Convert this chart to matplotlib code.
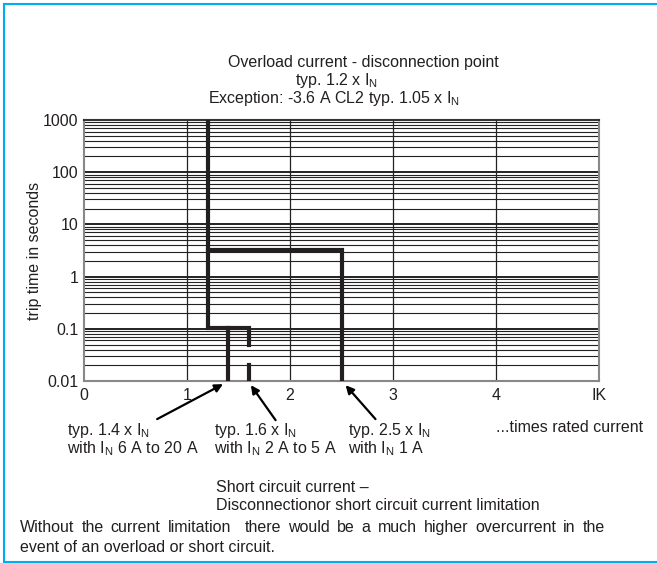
import matplotlib.pyplot as plt
import matplotlib.transforms as mtransforms
from matplotlib.lines import Line2D

plt.rcParams['font.family'] = ['Liberation Sans', 'DejaVu Sans']
plt.rcParams['mathtext.fontset'] = 'custom'
plt.rcParams['mathtext.rm'] = 'Liberation Sans'

# curve data (times rated current, trip time in s)
x_overload = 1.2
x_short = [1.4, 1.6, 2.5]
t_max = 1000
t_step = 3.2
t_short = 0.105
t_gap = [0.05, 0.02]
t_min = 0.01

x_ticks = [0, 1, 2, 3, 4, 5]
x_ticklabels = ['0', '1', '2', '3', '4', 'IK']
y_ticks = [0.01, 0.1, 1, 10, 100, 1000]
y_ticklabels = ['0.01', '0.1', '1', '10', '100', '1000']

FS = 11.5

fig = plt.figure(figsize=(6.57, 5.63), dpi=100)
ax = fig.add_axes([84/657, 182/563, 515/657, 261/563])
ax.set_yscale('log')
ax.set_xlim(0, 5)
ax.set_ylim(t_min, t_max)

# grid
for d in range(-2, 3):
    for m in range(1, 10):
        v = m * 10**d
        if v <= t_min or v >= t_max:
            continue
        ax.axhline(v, color='#222222', lw=1.4 if m == 1 else 0.8, zorder=1)
for xv in x_ticks[1:-1]:
    ax.axvline(xv, color='#222222', lw=0.9, zorder=1)

lw = 3.0
c = '#231f20'
ax.plot([x_overload, x_overload, x_short[1], x_short[1]],
        [t_max, t_short, t_short, t_gap[0]], color=c, lw=lw, solid_joinstyle='miter', zorder=3)
ax.plot([x_short[1], x_short[1]], [t_gap[1], t_min], color=c, lw=lw, zorder=3)
ax.plot([x_short[0], x_short[0]], [t_short, t_min], color=c, lw=lw, zorder=3)
ax.plot([x_overload, x_short[2], x_short[2]], [t_step, t_step, t_min],
        color=c, lw=lw, solid_joinstyle='miter', zorder=3)

for s in ax.spines.values():
    s.set_color('#888888')
    s.set_linewidth(1.5)
ax.spines['top'].set_color('#333333')

ax.set_xticks(x_ticks)
ax.set_xticklabels(x_ticklabels)
ax.set_yticks(y_ticks)
ax.set_yticklabels(y_ticklabels)
ax.minorticks_off()
ax.tick_params(length=0, labelsize=FS, colors='#231f20')
ax.tick_params(axis='x', pad=5)
ax.tick_params(axis='y', pad=4)
ax.set_ylabel('trip time in seconds', fontsize=FS, color='#231f20', labelpad=1)

# arrows
trans = mtransforms.blended_transform_factory(ax.transData, ax.transAxes)
arrows = [((1.35, -0.012), (0.71, -0.146)),
          ((1.62, -0.016), (1.86, -0.15)),
          ((2.54, -0.016), (2.83, -0.146))]
for head, tail in arrows:
    ax.annotate('', xy=head, xycoords=trans, xytext=tail, textcoords=trans,
                arrowprops=dict(arrowstyle='-|>', lw=1.6, color='black',
                                mutation_scale=12, shrinkA=0, shrinkB=0),
                annotation_clip=False)

def ftext(x, y, s, ha='left', va='center'):
    return fig.text(x/657, 1 - y/563, s, ha=ha, va=va, fontsize=FS, color='#231f20')

IN = r'I$_\mathregular{N}$'
ftext(363, 62, 'Overload current - disconnection point', ha='center')
ftext(295, 80, 'typ. 1.2 x ' + IN)
ftext(208, 98, 'Exception: -3.6 A CL2 typ. 1.05 x ' + IN)

ftext(67, 430, 'typ. 1.4 x ' + IN)
ftext(67, 449, 'with ' + IN + ' 6 A to 20 A')
ftext(214, 430, 'typ. 1.6 x ' + IN)
ftext(214, 449, 'with ' + IN + ' 2 A to 5 A')
ftext(348, 430, 'typ. 2.5 x ' + IN)
ftext(348, 449, 'with ' + IN + ' 1 A')
ftext(496, 428, '...times rated current')
ftext(216, 487, 'Short circuit current \u2013')
ftext(216, 506, 'Disconnectionor short circuit current limitation')

# justified first line of the note
words = 'Without the current limitation  there would be a much higher overcurrent in the'.split(' ')
renderer = fig.canvas.get_renderer()
arts = [ftext(20, 532, w, va='baseline') for w in words]
widths = [a.get_window_extent(renderer).width if w else 0 for a, w in zip(arts, words)]
space = (605 - 20 - sum(widths)) / (len(words) - 1)
xpos = 20
for a, wdt in zip(arts, widths):
    a.set_x(xpos / 657)
    xpos += wdt + space
ftext(20, 547, 'event of an overload or short circuit.')

# blue frame
blue = '#00aeef'
fig.add_artist(Line2D([3.5/657, 1], [1 - 4/563, 1 - 4/563], color=blue, lw=1.5, transform=fig.transFigure))
fig.add_artist(Line2D([3.5/657, 1], [1 - 561.5/563, 1 - 561.5/563], color=blue, lw=1.5, transform=fig.transFigure))
fig.add_artist(Line2D([3.5/657, 3.5/657], [1 - 4/563, 1 - 561.5/563], color=blue, lw=1.5, transform=fig.transFigure))

fig.savefig('out.png', dpi=100)
